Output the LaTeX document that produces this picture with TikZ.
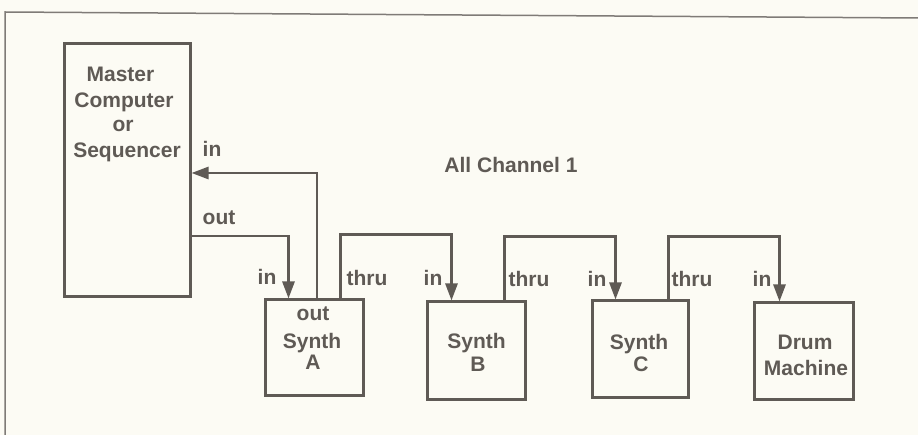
\documentclass[tikz,border=0pt]{standalone}
\usepackage{fontspec}
\setmainfont{Liberation Sans}
\usetikzlibrary{arrows.meta,calc}
\definecolor{ink}{HTML}{5F5A55}
\definecolor{paper}{HTML}{FCFBF4}
\begin{document}
\begin{tikzpicture}[x=1pt,y=-1pt,
  box/.style={draw=ink,line width=3pt,inner sep=0pt,rectangle},
  wire/.style={draw=ink,line width=2.7pt,line join=miter},
  arr/.style={wire,-{Triangle[length=17pt,width=12pt]}},
  lbl/.style={font=\fontsize{21}{25}\selectfont\bfseries,text=ink,inner sep=0pt,anchor=base}]
\fill[paper] (0,0) rectangle (918,435);
\useasboundingbox (0,0) rectangle (918,435);
\draw[ink!80,line width=1.5pt] (918,18) -- (5,12) -- (5,435);

% boxes
\node[box,minimum width=126pt,minimum height=253pt] (m) at (127,170.5) {};
\node[box,minimum width=98pt,minimum height=95pt] (sa) at (314,347.5) {};
\node[box,minimum width=98pt,minimum height=97pt] (sb) at (476,350.5) {};
\node[box,minimum width=96pt,minimum height=96pt] (sc) at (640,349) {};
\node[box,minimum width=99pt,minimum height=96pt] (dm) at (803.5,351) {};

% box texts
\node[lbl] (m1) at (120.5,82) {Master};
\node[lbl] (m2) at (124,108) {Computer};
\node[lbl] (m3) at (123,132) {or};
\node[lbl] (m4) at (127,158) {Sequencer};
\node[lbl] (a0) at (313,321) {out};
\node[lbl] (a1) at (312,349) {Synth};
\node[lbl] (a2) at (313,369.5) {A};
\node[lbl] (b1) at (476.5,349) {Synth};
\node[lbl] (b2) at (478,371.5) {B};
\node[lbl] (c1) at (639,349.5) {Synth};
\node[lbl] (c2) at (641,371.5) {C};
\node[lbl] (d1) at (805,350) {Drum};
\node[lbl] (d2) at (806,376) {Machine};

% port labels
\node[lbl] (lmin) at (212,157) {in};
\node[lbl] (lmout) at (219,225) {out};
\node[lbl] (lain) at (267,285) {in};
\node[lbl] (lathru) at (367,286) {thru};
\node[lbl] (lbin) at (433,286) {in};
\node[lbl] (lbthru) at (529,287) {thru};
\node[lbl] (lcin) at (597,287) {in};
\node[lbl] (lcthru) at (692,287) {thru};
\node[lbl] (ldin) at (762,287) {in};
\node[lbl] (title) at (511,173) {All Channel 1};

% connectors
\draw[arr] ($(m.east)+(0,65.5)$) -| ($(sa.north west)+(25,0)$);
\draw[arr] ($(sa.north)+(3,0)$) |- ($(m.east)+(0,2.5)$);
\draw[arr] ($(sa.north west)+(77,0)$) -- ++(0,-64) -| ($(sb.north west)+(26,0)$);
\draw[arr] ($(sb.north east)+(-22,0)$) -- ++(0,-64) -| ($(sc.north west)+(25,0)$);
\draw[arr] ($(sc.north east)+(-21,0)$) -- ++(0,-63) -| ($(dm.north west)+(27,0)$);
\end{tikzpicture}
\end{document}
